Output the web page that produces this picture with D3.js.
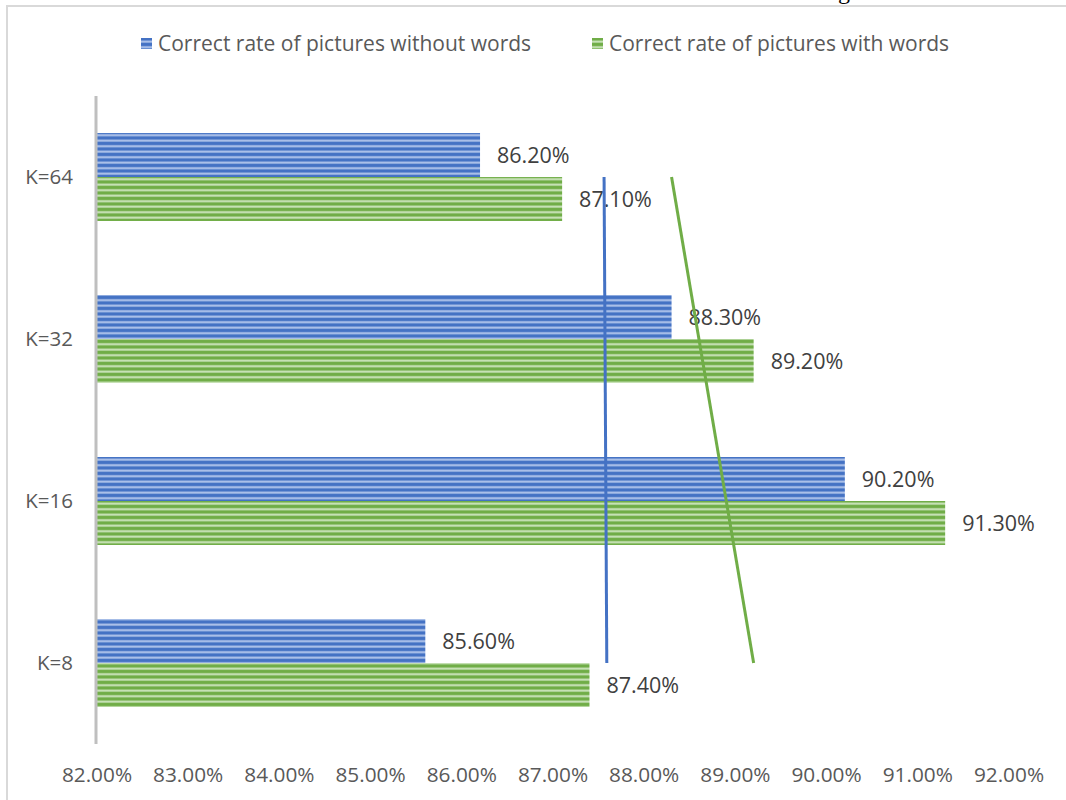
<!DOCTYPE html>
<html><head><meta charset="utf-8">
<script src="https://cdn.jsdelivr.net/npm/d3@7"></script>
<style>body{margin:0;background:#fff}svg{display:block}</style>
</head><body>
<script>
const categories = ["K=8","K=16","K=32","K=64"];
const seriesNames = ["Correct rate of pictures without words","Correct rate of pictures with words"];
const withoutWords = [85.6, 90.2, 88.3, 86.2];
const withWords = [87.4, 91.3, 89.2, 87.1];
const xTicks = [82,83,84,85,86,87,88,89,90,91,92];

const W=1066,H=800;
const font="'Open Sans', sans-serif";
const colors=[{dark:"#4472c4",light:"#b4c7ec"},{dark:"#70ad47",light:"#cfe6c0"}];
const svg=d3.select("body").append("svg").attr("width",W).attr("height",H);
const defs=svg.append("defs");
colors.forEach((c,i)=>{
  const p=defs.append("pattern").attr("id","pat"+i).attr("patternUnits","userSpaceOnUse")
    .attr("width",10).attr("height",5.5);
  p.append("rect").attr("width",10).attr("height",5.5).attr("fill",c.dark);
  p.append("rect").attr("y",2.2).attr("width",10).attr("height",2).attr("fill",c.light);
});

// stray caption fragment from page above
svg.append("text").attr("x",838).attr("y",-1).attr("font-family","'Liberation Serif', serif")
  .attr("font-size",24).attr("fill","#000").text("g");
// border
svg.append("rect").attr("x",7).attr("y",6).attr("width",1080).attr("height",820)
  .attr("fill","none").attr("stroke","#d9d9d9").attr("stroke-width",2);

const x=d3.scaleLinear().domain([82,92]).range([97,1009]);
const y=d3.scaleBand().domain(categories).range([744,96]).paddingInner(0.457).paddingOuter(0.2285);
const sub=d3.scaleBand().domain([0,1]).range([0,y.bandwidth()]);
const series=[withoutWords,withWords];

// bars
series.forEach((vals,si)=>{
  svg.append("g").selectAll("rect").data(categories).join("rect")
    .attr("x",x(82)).attr("y",c=>y(c)+sub(si)).attr("width",(c,i)=>x(vals[i])-x(82))
    .attr("height",sub.bandwidth()).attr("fill","url(#pat"+si+")");
  svg.append("g").selectAll("text").data(categories).join("text")
    .attr("x",(c,i)=>x(vals[i])+17).attr("y",c=>y(c)+sub(si)+sub.bandwidth()/2)
    .attr("dy","0.35em").attr("font-family",font).attr("font-size",21.5).attr("fill","#404040")
    .text((c,i)=>vals[i].toFixed(2)+"%");
});

// trendlines (linear regression over category index)
series.forEach((vals,si)=>{
  const n=vals.length, idx=d3.range(1,n+1);
  const mx=d3.mean(idx), my=d3.mean(vals);
  const slope=d3.sum(idx,(t,i)=>(t-mx)*(vals[i]-my))/d3.sum(idx,t=>(t-mx)**2);
  const f=t=>my+slope*(t-mx);
  const cy=c=>y(c)+y.bandwidth()/2;
  svg.append("line").attr("x1",x(f(1))).attr("y1",cy(categories[0]))
    .attr("x2",x(f(n))).attr("y2",cy(categories[n-1]))
    .attr("stroke",colors[si].dark).attr("stroke-width",3);
});

// y axis line
svg.append("line").attr("x1",96).attr("x2",96).attr("y1",y.range()[1]).attr("y2",y.range()[0])
  .attr("stroke","#bfbfbf").attr("stroke-width",3);
// category labels
svg.append("g").selectAll("text").data(categories).join("text")
  .attr("x",73).attr("y",c=>y(c)+y.bandwidth()/2).attr("dy","0.35em").attr("text-anchor","end")
  .attr("font-family",font).attr("font-size",20.5).attr("fill","#595959").text(c=>c);
// x tick labels
svg.append("g").selectAll("text").data(xTicks).join("text")
  .attr("x",d=>x(d)).attr("y",775).attr("dy","0.35em").attr("text-anchor","middle")
  .attr("font-family",font).attr("font-size",20.8).attr("fill","#595959").text(d=>d.toFixed(2)+"%");

// legend
const legX=[141,592];
seriesNames.forEach((nm,i)=>{
  svg.append("rect").attr("x",legX[i]).attr("y",38).attr("width",11).attr("height",11).attr("fill","url(#pat"+i+")");
  svg.append("text").attr("x",legX[i]+17).attr("y",44).attr("dy","0.35em")
    .attr("font-family",font).attr("font-size",21).attr("fill","#595959").text(nm);
});
</script>
</body></html>
